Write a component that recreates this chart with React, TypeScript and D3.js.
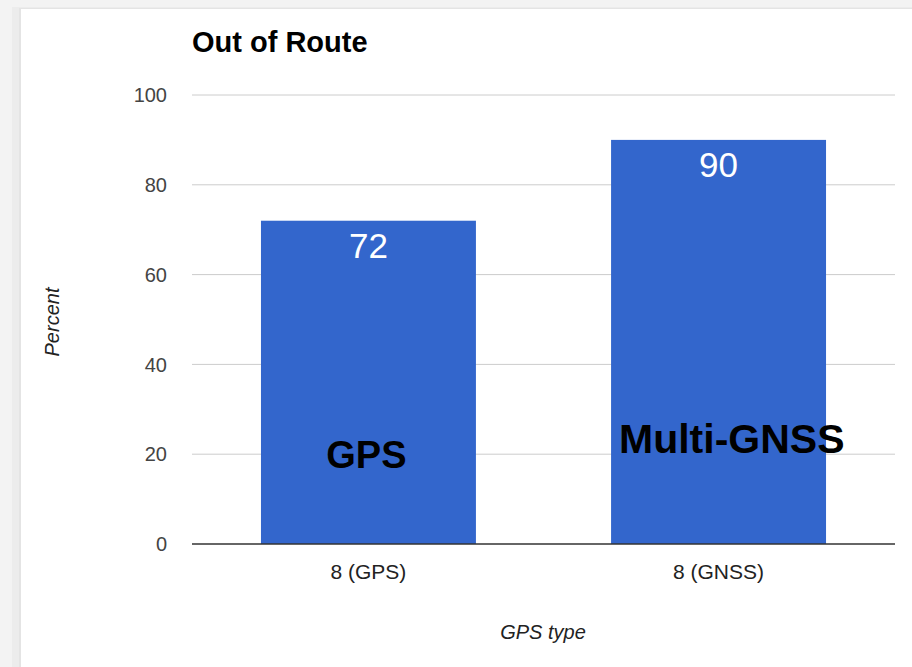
import React from 'react';
import * as d3 from 'd3';

const categories = ['8 (GPS)', '8 (GNSS)'];
const values = [72, 90];
const barNames = ['GPS', 'Multi-GNSS'];
const yTicks = [0, 20, 40, 60, 80, 100];

const W = 912;
const H = 667;
const left = 192;
const right = 895;
const top = 95;
const bottom = 544;

const App = () => {
  const x = d3.scaleBand<string>()
    .domain(categories)
    .range([left, right])
    .paddingInner(0.386)
    .paddingOuter(0.197);
  const y = d3.scaleLinear([0, 100], [bottom, top]);
  const font = 'Arial, "Liberation Sans", sans-serif';

  return (
    <svg width={W} height={H} style={{ position: 'absolute', left: 0, top: 0 }} fontFamily={font}>
      {/* page frame */}
      <rect x={0} y={0} width={W} height={H} fill="#f3f3f3" />
      <rect x={12} y={7} width={W - 12} height={H - 7} fill="#ececec" />
      <rect x={19} y={8} width={W - 19} height={H - 8} fill="#e4e4e4" />
      <rect x={21} y={9} width={W - 21} height={H - 9} fill="#ffffff" />

      <text x={left} y={52} fontSize={29} fontWeight="bold" fill="#000">Out of Route</text>

      {yTicks.map(t => (
        <g key={t}>
          {t !== 0 && <line x1={left} x2={right} y1={y(t)} y2={y(t)} stroke="#cccccc" strokeWidth={1} />}
          <text x={167} y={y(t)} dy="0.36em" textAnchor="end" fontSize={20} fill="#444">{t}</text>
        </g>
      ))}

      {categories.map((c, i) => (
        <g key={c}>
          <rect x={x(c)} y={y(values[i])} width={x.bandwidth()} height={y(0) - y(values[i])} fill="#3366cc" />
          <text x={x(c)! + x.bandwidth() / 2} y={y(values[i]) + 37} textAnchor="middle" fontSize={35} fill="#ffffff">{values[i]}</text>
          <text x={x(c)! + x.bandwidth() / 2} y={579} textAnchor="middle" fontSize={21} fill="#222">{c}</text>
        </g>
      ))}

      <line x1={left} x2={right} y1={y(0)} y2={y(0)} stroke="#333" strokeWidth={1.5} />

      {/* bar annotations */}
      <text x={x(categories[0])! + x.bandwidth() / 2 - 2} y={468} textAnchor="middle" fontSize={38} fontWeight="bold" fill="#000">{barNames[0]}</text>
      <text x={619} y={453} fontSize={41} fontWeight="bold" fill="#000">{barNames[1]}</text>

      <text x={543} y={639} textAnchor="middle" fontSize={20} fontStyle="italic" fill="#222">GPS type</text>
      <text transform={`translate(59,322) rotate(-90)`} textAnchor="middle" fontSize={20} fontStyle="italic" fill="#222">Percent</text>
    </svg>
  );
};

export default App;
